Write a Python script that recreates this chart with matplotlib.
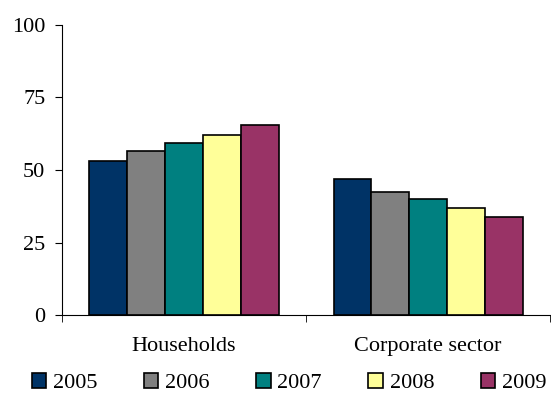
import numpy as np
import matplotlib.pyplot as plt

plt.rcParams['font.family'] = ['Liberation Serif', 'DejaVu Serif']

categories = ['Households', 'Corporate sector']
years = ['2005', '2006', '2007', '2008', '2009']
values = {
    '2005': [53.1, 46.8],
    '2006': [56.4, 42.5],
    '2007': [59.2, 39.9],
    '2008': [62.0, 37.0],
    '2009': [65.4, 33.7],
}
colors = ['#003366', '#808080', '#008080', '#FFFF99', '#993366']

fig = plt.figure(figsize=(5.51, 3.96), dpi=100)
ax = fig.add_axes([0.1125, 0.2045, 0.886, 0.7325])

x = np.arange(len(categories))
w = 0.155
for i, yr in enumerate(years):
    ax.bar(x + (i - 2) * w, values[yr], w, color=colors[i], edgecolor='black',
           linewidth=1.2, label=yr)

ax.set_xlim(-0.5, 1.5)
ax.set_ylim(0, 100)
ax.set_yticks([0, 25, 50, 75, 100])
ax.set_xticks(x)
ax.set_xticklabels(categories, fontsize=16)
ax.set_xticks([-0.5, 0.5, 1.5], minor=True)
ax.tick_params(axis='x', which='major', length=0, pad=16)
ax.tick_params(axis='x', which='minor', length=5, direction='out')
ax.tick_params(axis='y', labelsize=16, length=5, direction='out', pad=7)
ax.spines['top'].set_visible(False)
ax.spines['right'].set_visible(False)

fig.legend(loc='center', bbox_to_anchor=(289 / 551, 0.032), ncol=5, frameon=False,
           fontsize=16, handlelength=0.65, handleheight=0.65, handletextpad=0.3,
           columnspacing=2.1, borderpad=0)

plt.savefig('out.png', dpi=100)
